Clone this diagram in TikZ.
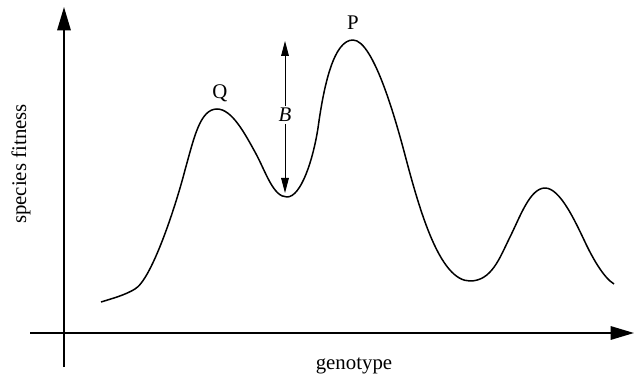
\documentclass[tikz,border=0pt]{standalone}
\usepackage{fontspec}
\setmainfont{Liberation Serif}
\usetikzlibrary{arrows.meta}
\begin{document}
\begin{tikzpicture}[
    x=0.6pt, y=-0.6pt,
    axis/.style={line width=1.2pt, -{Triangle[length=14pt, width=8pt]}},
    barrow/.style={line width=0.6pt, -{Triangle[length=9pt, width=4.6pt]}},
    curve/.style={line width=0.9pt, line join=round},
    lbl/.style={font=\fontsize{12.5}{14}\selectfont, inner sep=1pt}
]
    \useasboundingbox (0,0) rectangle (638,383);
    % axes
    \coordinate (ybot) at (64,367);
    \coordinate (ytop) at (64,7);
    \coordinate (xleft) at (30,333);
    \coordinate (xright) at (634,333);
    \draw[axis] (ybot) -- (ytop);
    \draw[axis] (xleft) -- (xright);
    \node[lbl, rotate=90] (yl) at (21,164) {species fitness};
    \node[lbl] (xl) at (354,366) {genotype};
    % fitness landscape
    \draw[curve] (101,302)
        .. controls (114,298) and (125,295) .. (135,289)
        .. controls (152,279) and (176,205) .. (185,170)
        .. controls (194,138) and (200,109) .. (217,109)   % Q
        .. controls (232,109) and (245,134) .. (255,152)
        .. controls (266,172) and (273,197) .. (287,197)   % valley
        .. controls (301,197) and (313,160) .. (318,128)
        .. controls (324,84) and (334,40) .. (353,40)      % P
        .. controls (374,40) and (397,125) .. (405,155)
        .. controls (420,212) and (440,281) .. (470,281)
        .. controls (492,281) and (500,257) .. (510,237)
        .. controls (520,217) and (530,188) .. (545,188)
        .. controls (560,188) and (575,221) .. (585,242)
        .. controls (593,259) and (604,278) .. (614,284);
    \node[lbl] (q) at (220,93) {Q};
    \node[lbl] (p) at (353,23) {P};
    % barrier
    \node[lbl, fill=white] (b) at (285,115) {\textit{B}};
    \coordinate (btop) at (285,41);
    \coordinate (bbot) at (285,193);
    \draw[barrow] (b) -- (btop);
    \draw[barrow] (b) -- (bbot);
\end{tikzpicture}
\end{document}
